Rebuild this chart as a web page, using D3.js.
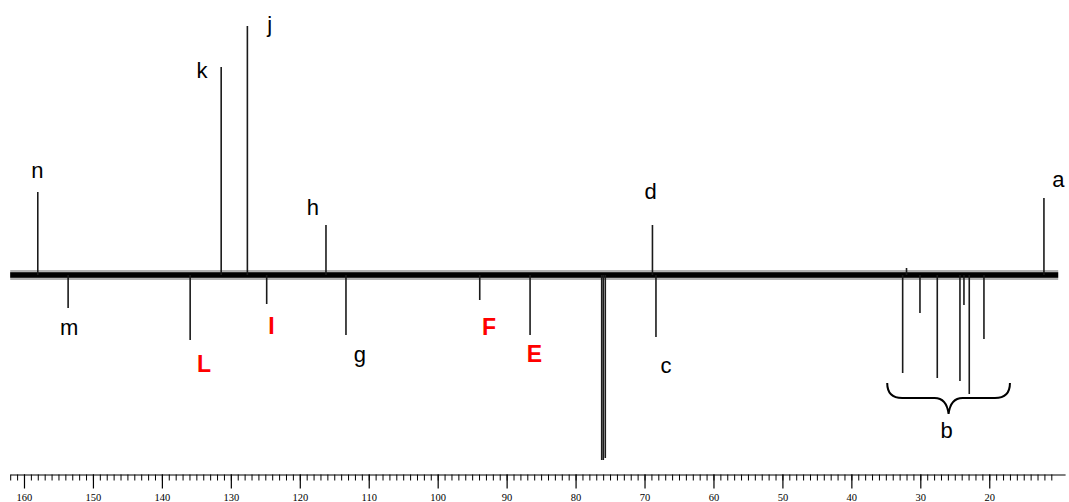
<!DOCTYPE html>
<html>
<head>
<meta charset="utf-8">
<script src="https://cdn.jsdelivr.net/npm/d3@7"></script>
<style>
  html, body { margin: 0; padding: 0; background: #fff; }
  svg { display: block; }
</style>
</head>
<body>
<svg id="chart" width="1069" height="502"></svg>
<script>
// ---- data (13C spectrum, chemical shift in ppm, signed intensity) ----
const peakPpm = [158.0, 153.6, 135.9, 131.4, 127.6, 124.8, 116.2, 113.3, 93.9, 86.6,
                 76.21, 75.98, 75.69, 68.85, 68.34,
                 32.56, 32.0, 30.05, 27.54, 24.25, 23.67, 22.9, 20.77, 12.07];
const peakIntensity = [83, -33, -65, 208, 249, -29, 50, -60, -25, -60,
                       -185, -185, -183, 50, -62,
                       -98, 7, -38, -103, -106, -30, -119, -64, 77];

const labelText = ["n", "m", "k", "j", "h", "g", "d", "c", "a", "b", "L", "I", "F", "E"];
const labelPpm  = [158.07, 153.43, 134.18, 124.37, 118.09, 111.27, 69.11, 66.89, 9.99, 26.2, 133.89, 124.1, 92.56, 85.96];
const labelLevel = [97, -60, 197, 243, 60, -87, 76, -98, 88, -163, -97, -59, -60, -87];
const labelRed  = [false, false, false, false, false, false, false, false, false, false, true, true, true, true];

const minorTicks = d3.range(11, 163, 1);
const majorTicks = d3.range(20, 161, 10);
const braceRange = [34.8, 17.0];   // ppm extent of bracket "b"

// ---- layout ----
const svg = d3.select("#chart");
const x = d3.scaleLinear().domain([162, 9]).range([10.2, 1065.1]);
const y = d3.scaleLinear().domain([-200, 260]).range([475, 15]);
const axisY = 474.5;

// baseline noise band
const base = svg.append("g");
base.append("line")
  .attr("x1", x(162)).attr("x2", x(10))
  .attr("y1", y(0)).attr("y2", y(0))
  .attr("stroke", "#000").attr("stroke-width", 10).attr("stroke-opacity", 0.3);
base.append("line")
  .attr("x1", x(162)).attr("x2", x(10))
  .attr("y1", y(0)).attr("y2", y(0))
  .attr("stroke", "#000").attr("stroke-width", 5.5);

// peaks
svg.append("g").selectAll("line")
  .data(peakPpm.map((p, i) => ({ p, v: peakIntensity[i] })))
  .join("line")
  .attr("x1", d => x(d.p)).attr("x2", d => x(d.p))
  .attr("y1", y(0)).attr("y2", d => y(d.v))
  .attr("stroke", "#1a1a1a").attr("stroke-width", 1.6);

// bracket for b
const bl = x(braceRange[0]), br = x(braceRange[1]), bm = (bl + br) / 2;
const bt = y(-108), bh = y(-123), bc = y(-139);
svg.append("path")
  .attr("d", `M${bl},${bt} Q${bl},${bh} ${bl + 15},${bh} L${bm - 14},${bh} Q${bm - 2},${bh} ${bm},${bc} Q${bm + 2},${bh} ${bm + 14},${bh} L${br - 15},${bh} Q${br},${bh} ${br},${bt}`)
  .attr("fill", "none").attr("stroke", "#000").attr("stroke-width", 2);

// labels
svg.append("g").selectAll("text")
  .data(labelText.map((t, i) => ({ t, p: labelPpm[i], v: labelLevel[i], red: labelRed[i] })))
  .join("text")
  .attr("x", d => x(d.p)).attr("y", d => y(d.v))
  .attr("text-anchor", "middle")
  .attr("font-family", "'Liberation Sans', Arial, sans-serif")
  .attr("font-size", d => d.red ? 23 : 22)
  .attr("font-weight", d => d.red ? "bold" : "normal")
  .attr("fill", d => d.red ? "#ff0000" : "#000")
  .text(d => d.t);

// axis
const minorAxis = d3.axisBottom(x).tickValues(minorTicks).tickSize(6).tickFormat("").tickSizeOuter(0);
const majorAxis = d3.axisBottom(x).tickValues(majorTicks).tickSize(14).tickPadding(5).tickSizeOuter(0)
  .tickFormat(d3.format("d"));

const gMinor = svg.append("g").attr("transform", `translate(0,${axisY})`).call(minorAxis);
gMinor.select(".domain").attr("stroke", "#000").attr("stroke-width", 1.2);
gMinor.selectAll(".tick line").attr("stroke", "#000").attr("stroke-width", 1);

const gMajor = svg.append("g").attr("transform", `translate(0,${axisY})`).call(majorAxis);
gMajor.select(".domain").remove();
gMajor.selectAll(".tick line").attr("stroke", "#000").attr("stroke-width", 1.2);
gMajor.selectAll(".tick text")
  .attr("font-family", "'Liberation Serif', 'Times New Roman', serif")
  .attr("font-size", 10.5).attr("fill", "#000");
</script>
</body>
</html>
